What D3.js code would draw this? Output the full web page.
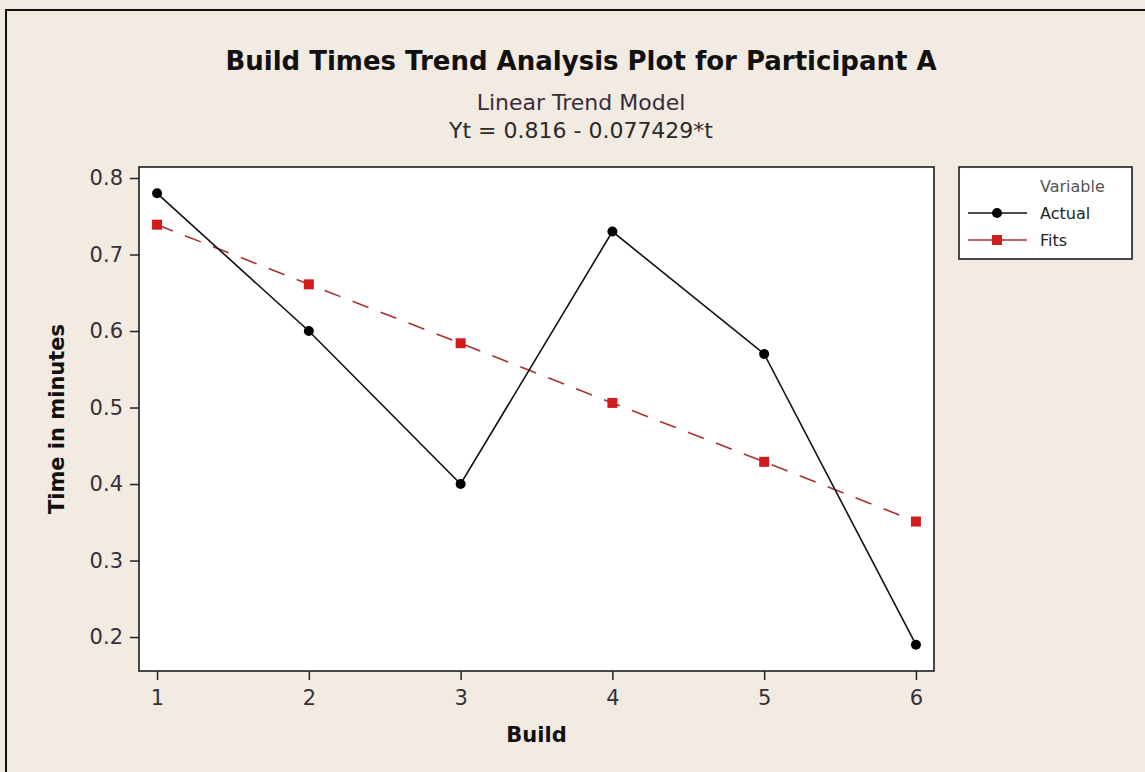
<!DOCTYPE html>
<html>
<head>
<meta charset="utf-8">
<script src="https://cdn.jsdelivr.net/npm/d3@7"></script>
<style>
    body { margin: 0; background: #f1ebe2; }
    svg { display: block; }
</style>
</head>
<body>
<div id="chart"></div>
<script>
// Datos
const builds = [1, 2, 3, 4, 5, 6];
const actual = [0.78, 0.60, 0.40, 0.73, 0.57, 0.19];
const fits = [0.739, 0.661, 0.584, 0.506, 0.429, 0.351];
const yTicks = [0.2, 0.3, 0.4, 0.5, 0.6, 0.7, 0.8];
const xTicks = [1, 2, 3, 4, 5, 6];
const legendLabels = ['Actual', 'Fits'];

const width = 1145;
const height = 772;
const plot = { left: 139, top: 167, right: 934, bottom: 671 };
const font = '"DejaVu Sans", Verdana, sans-serif';
const bg = '#f1ebe2';
const fitColor = '#d41b1b';
const fitLine = '#a83232';

const svg = d3.select('#chart').append('svg')
    .attr('width', width)
    .attr('height', height);

svg.append('rect')
    .attr('width', width)
    .attr('height', height)
    .attr('fill', bg);

// Marco exterior (cortado a la derecha y abajo)
svg.append('rect')
    .attr('x', 6)
    .attr('y', 10)
    .attr('width', width + 20)
    .attr('height', height + 20)
    .attr('fill', 'none')
    .attr('stroke', '#111')
    .attr('stroke-width', 2);

// Escalas
const xScale = d3.scaleLinear()
    .domain([0.881, 6.119])
    .range([plot.left, plot.right]);

const yScale = d3.scaleLinear()
    .domain([0.1556, 0.8144])
    .range([plot.bottom, plot.top]);

// Área del gráfico
svg.append('rect')
    .attr('x', plot.left)
    .attr('y', plot.top)
    .attr('width', plot.right - plot.left)
    .attr('height', plot.bottom - plot.top)
    .attr('fill', '#fff')
    .attr('stroke', '#111')
    .attr('stroke-width', 1.5);

// Eje X
const xAxis = svg.append('g')
    .attr('transform', `translate(0, ${plot.bottom})`)
    .call(d3.axisBottom(xScale).tickValues(xTicks).tickSize(9).tickPadding(10).tickFormat(d3.format('d')));

// Eje Y
const yAxis = svg.append('g')
    .attr('transform', `translate(${plot.left}, 0)`)
    .call(d3.axisLeft(yScale).tickValues(yTicks).tickSize(9).tickPadding(7).tickFormat(d3.format('.1f')));

[xAxis, yAxis].forEach(ax => {
    ax.select('.domain').remove();
    ax.selectAll('.tick line').attr('stroke', '#222').attr('stroke-width', 1.5);
    ax.selectAll('.tick text')
        .attr('fill', '#35303a')
        .style('font-family', font)
        .style('font-size', '21px');
});

// Líneas
const line = d3.line()
    .x((d, i) => xScale(builds[i]))
    .y(d => yScale(d));

svg.append('path')
    .datum(fits)
    .attr('d', line)
    .attr('fill', 'none')
    .attr('stroke', fitLine)
    .attr('stroke-width', 1.6)
    .attr('stroke-dasharray', '17,13');

svg.append('path')
    .datum(actual)
    .attr('d', line)
    .attr('fill', 'none')
    .attr('stroke', '#111')
    .attr('stroke-width', 1.6);

// Marcadores
svg.selectAll('.fit')
    .data(fits)
    .enter()
    .append('rect')
    .attr('class', 'fit')
    .attr('x', (d, i) => xScale(builds[i]) - 5)
    .attr('y', d => yScale(d) - 5)
    .attr('width', 10)
    .attr('height', 10)
    .attr('fill', fitColor);

svg.selectAll('.actual')
    .data(actual)
    .enter()
    .append('circle')
    .attr('class', 'actual')
    .attr('cx', (d, i) => xScale(builds[i]))
    .attr('cy', d => yScale(d))
    .attr('r', 5)
    .attr('fill', '#000');

// Títulos
const titleX = 581;
svg.append('text')
    .attr('x', titleX)
    .attr('y', 70)
    .attr('text-anchor', 'middle')
    .attr('fill', '#111')
    .style('font-family', font)
    .style('font-size', '26px')
    .style('font-weight', 'bold')
    .text('Build Times Trend Analysis Plot for Participant A');

svg.append('text')
    .attr('x', titleX)
    .attr('y', 110)
    .attr('text-anchor', 'middle')
    .attr('fill', '#3a2a3a')
    .style('font-family', font)
    .style('font-size', '22px')
    .text('Linear Trend Model');

svg.append('text')
    .attr('x', titleX)
    .attr('y', 138)
    .attr('text-anchor', 'middle')
    .attr('fill', '#2a2a2a')
    .style('font-family', font)
    .style('font-size', '22px')
    .text('Yt = 0.816 - 0.077429*t');

// Etiquetas de ejes
svg.append('text')
    .attr('x', (plot.left + plot.right) / 2)
    .attr('y', 742)
    .attr('text-anchor', 'middle')
    .attr('fill', '#111')
    .style('font-family', font)
    .style('font-size', '21px')
    .style('font-weight', 'bold')
    .text('Build');

svg.append('text')
    .attr('transform', `translate(64, ${(plot.top + plot.bottom) / 2}) rotate(-90)`)
    .attr('text-anchor', 'middle')
    .attr('fill', '#111')
    .style('font-family', font)
    .style('font-size', '21px')
    .style('font-weight', 'bold')
    .text('Time in minutes');

// Leyenda
const legend = svg.append('g').attr('transform', 'translate(959, 167)');

legend.append('rect')
    .attr('width', 173)
    .attr('height', 92)
    .attr('fill', '#fff')
    .attr('stroke', '#111')
    .attr('stroke-width', 1.5);

legend.append('text')
    .attr('x', 81)
    .attr('y', 25)
    .attr('fill', '#555')
    .style('font-family', font)
    .style('font-size', '16px')
    .text('Variable');

const items = legend.selectAll('.item')
    .data(legendLabels)
    .enter()
    .append('g')
    .attr('class', 'item')
    .attr('transform', (d, i) => `translate(0, ${46 + i * 27})`);

items.append('line')
    .attr('x1', 9)
    .attr('x2', 68)
    .attr('stroke', (d, i) => i === 0 ? '#111' : fitLine)
    .attr('stroke-width', 1.5);

items.each(function(d, i) {
    const g = d3.select(this);
    if (i === 0) {
        g.append('circle').attr('cx', 38).attr('r', 5).attr('fill', '#000');
    } else {
        g.append('rect').attr('x', 33).attr('y', -5).attr('width', 10).attr('height', 10).attr('fill', fitColor);
    }
});

items.append('text')
    .attr('x', 81)
    .attr('dy', '0.35em')
    .attr('fill', '#222')
    .style('font-family', font)
    .style('font-size', '16px')
    .text(d => d);
</script>
</body>
</html>
